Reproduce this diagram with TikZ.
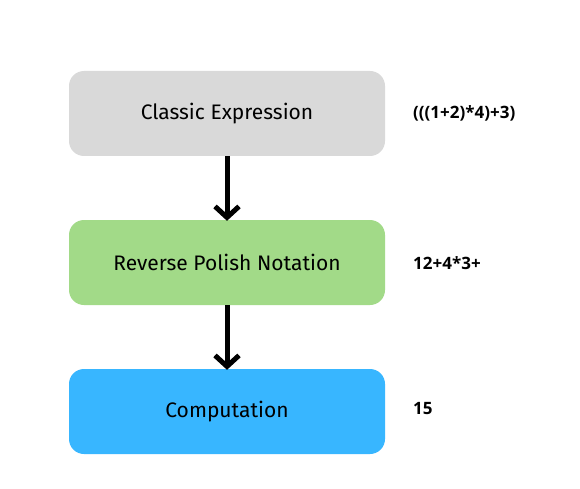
\documentclass[tikz,border=0pt]{standalone}
\usepackage{fontspec}
\setmainfont{Open Sans}
\newfontfamily\boxfont{Fira Sans}
\usetikzlibrary{arrows.meta}
\definecolor{boxgray}{RGB}{217,217,217}
\definecolor{boxgreen}{RGB}{162,218,136}
\definecolor{boxblue}{RGB}{56,182,255}
\tikzset{
  stage/.style={rectangle, rounded corners=15pt, minimum width=316pt, minimum height=85pt, inner sep=0pt, font=\boxfont\fontsize{21}{25}\selectfont, text=black},
  sidelabel/.style={anchor=west, inner sep=0pt, font=\bfseries\fontsize{17}{20}\selectfont},
  flow/.style={line width=5pt, -{Straight Barb[length=11pt,width=24pt,line width=5pt]}}
}
\begin{document}
\begin{tikzpicture}[x=1pt,y=-1pt]
\useasboundingbox[fill=white] (0,0) rectangle (580,489);
\node[stage, fill=boxgray] (ce) at (227,113.5) {Classic Expression};
\node[stage, fill=boxgreen] (rpn) at (227,262.5) {Reverse Polish Notation};
\node[stage, fill=boxblue] (cmp) at (227,411.5) {Computation};
\node[sidelabel] (l1) at (413,113) {(((1+2)*4)+3)};
\node[sidelabel] (l2) at (413,263) {12+4*3+};
\node[sidelabel] (l3) at (413,409) {15};
\draw[flow] (ce.south) -- ([yshift=-1pt]rpn.north);
\draw[flow] (rpn.south) -- ([yshift=-1pt]cmp.north);
\end{tikzpicture}
\end{document}
